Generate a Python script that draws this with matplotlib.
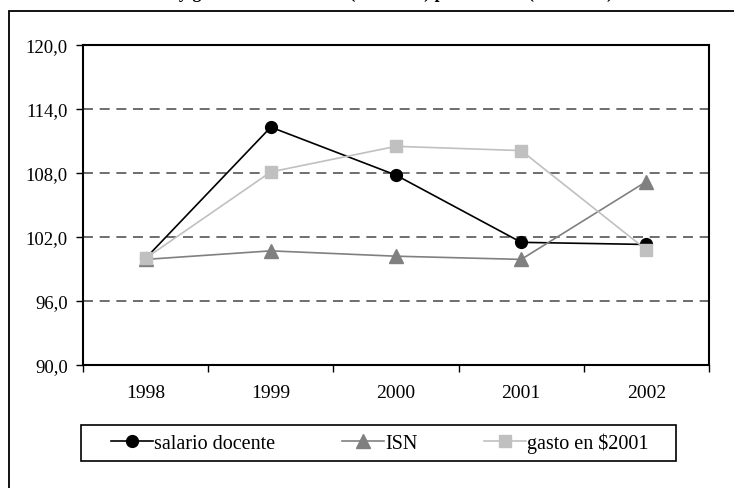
import matplotlib
matplotlib.use("Agg")
import matplotlib.pyplot as plt
from matplotlib.patches import Rectangle
from matplotlib.ticker import FuncFormatter, FixedLocator

plt.rcParams['font.family'] = ['Liberation Serif', 'DejaVu Serif']

# datos (indice 1998 = 100)
years = ["1998", "1999", "2000", "2001", "2002"]
salario_docente = [100.0, 112.3, 107.8, 101.5, 101.3]
isn = [99.9, 100.7, 100.2, 99.9, 107.2]
gasto_2001 = [100.0, 108.1, 110.5, 110.1, 100.8]
y_ticks = [90, 96, 102, 108, 114, 120]
title = "Salario docente y gasto educativo real (en índice) por alumno (1998=100)"

W, H = 734, 489
fig = plt.figure(figsize=(W / 100, H / 100), dpi=100)

# marco exterior del grafico (cortado a la derecha y abajo)
fig.patches.append(Rectangle((9 / W, -0.1), 1.2, 1 - 12 / H + 0.1,
                             transform=fig.transFigure, fill=False,
                             edgecolor='black', linewidth=1.3))

# titulo, solo se ven los trazos inferiores
fig.text(56 / W, 1 + 2 / H, title, ha='left', va='baseline', fontsize=13,
         fontweight='bold')

ax = fig.add_axes([83 / W, (H - 366) / H, (709 - 83) / W, (366 - 46) / H])
x = list(range(len(years)))

ax.plot(x, salario_docente, color='black', lw=1.2, marker='o', ms=8.5,
        label='salario docente', zorder=3)
ax.plot(x, isn, color='#808080', lw=1.2, marker='^', ms=9.5,
        label='ISN', zorder=4)
ax.plot(x, gasto_2001, color='#c0c0c0', lw=1.2, marker='s', ms=8.5,
        label='gasto en $2001', zorder=5)

ax.set_xlim(-0.5, len(years) - 0.5)
ax.set_ylim(y_ticks[0], y_ticks[-1])
ax.set_yticks(y_ticks)
ax.yaxis.set_major_formatter(FuncFormatter(lambda v, p: f"{v:.1f}".replace('.', ',')))
ax.set_xticks(x)
ax.set_xticklabels(years)
ax.xaxis.set_minor_locator(FixedLocator([i - 0.5 for i in range(len(years) + 1)]))
ax.tick_params(axis='x', which='major', length=0, pad=14, labelsize=14)
ax.tick_params(axis='x', which='minor', length=5, width=1, direction='out')
ax.tick_params(axis='y', length=5, width=1, direction='out', pad=6, labelsize=13.5)

for v in y_ticks[1:-1]:
    ax.axhline(v, color='#555555', lw=1.2, ls=(0, (6, 4)), zorder=1)

for s in ax.spines.values():
    s.set_linewidth(1.5)
    s.set_color('black')

# recuadro de la leyenda
fig.patches.append(Rectangle((81 / W, 1 - 462 / H), (676 - 81) / W, 36 / H,
                             transform=fig.transFigure, fill=False,
                             edgecolor='black', linewidth=1.2))
fig.legend(loc='center', bbox_to_anchor=(380 / W, 1 - 444 / H), ncol=3,
           fontsize=14.5, frameon=False, handlelength=2.1,
           columnspacing=3.3, handletextpad=0.05, borderpad=0.2)

fig.savefig('out.png', dpi=100)
